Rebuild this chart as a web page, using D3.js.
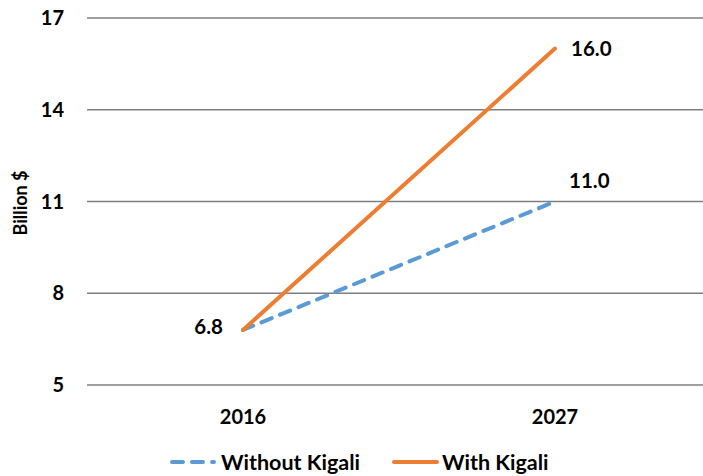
<!DOCTYPE html>
<html>
<head>
<meta charset="utf-8">
<script src="https://cdn.jsdelivr.net/npm/d3@7"></script>
<style>
  html, body { margin: 0; padding: 0; background: #fff; }
  text { font-family: Lato, "Open Sans", sans-serif; font-weight: bold; fill: #000; }
</style>
</head>
<body>
<svg id="chart" width="703" height="476"></svg>
<script>
// Refrigerant market value, billion dollars
const years = ["2016", "2027"];
const withoutKigali = [6.8, 11.0];
const withKigali = [6.8, 16.0];
const yTicks = [5, 8, 11, 14, 17];

const svg = d3.select("#chart");
const plotLeft = 87, plotRight = 703, plotTop = 18, plotBottom = 385;

const x = d3.scalePoint().domain(years).range([plotLeft, 711]).padding(0.5);
const y = d3.scaleLinear().domain([5, 17]).range([plotBottom, plotTop]);

// horizontal gridlines
svg.append("g").selectAll("line").data(yTicks).join("line")
  .attr("x1", plotLeft).attr("x2", plotRight)
  .attr("y1", d => y(d)).attr("y2", d => y(d))
  .attr("stroke", "#7f7f7f").attr("stroke-width", 1.5);

// y tick labels
svg.append("g").selectAll("text").data(yTicks).join("text")
  .attr("x", 64).attr("y", d => y(d)).attr("dy", "0.35em")
  .attr("text-anchor", "end").attr("font-size", 20)
  .text(d => d);

// x tick labels
svg.append("g").selectAll("text").data(years).join("text")
  .attr("x", d => x(d)).attr("y", 417).attr("dy", "0.35em")
  .attr("text-anchor", "middle").attr("font-size", 20)
  .text(d => d);

// y axis title
svg.append("text")
  .attr("transform", "translate(21,203) rotate(-90)")
  .attr("dy", "0.35em").attr("text-anchor", "middle").attr("font-size", 18)
  .text("Billion $");

const line = d3.line().x((d, i) => x(years[i])).y(d => y(d));

svg.append("path").datum(withoutKigali)
  .attr("d", line).attr("fill", "none")
  .attr("stroke", "#5b9bd5").attr("stroke-width", 4)
  .attr("stroke-dasharray", "11,9").attr("stroke-linecap", "round");

svg.append("path").datum(withKigali)
  .attr("d", line).attr("fill", "none")
  .attr("stroke", "#ed7d31").attr("stroke-width", 4)
  .attr("stroke-linecap", "round");

// data labels
svg.append("text").attr("x", x("2016") - 20).attr("y", y(withKigali[0]) - 3)
  .attr("dy", "0.35em").attr("text-anchor", "end").attr("font-size", 20.5)
  .text(withKigali[0].toFixed(1));
svg.append("text").attr("x", x("2027") + 16).attr("y", y(withKigali[1]))
  .attr("dy", "0.35em").attr("text-anchor", "start").attr("font-size", 20.5)
  .text(withKigali[1].toFixed(1));
svg.append("text").attr("x", x("2027") + 14).attr("y", y(withoutKigali[1]) - 21)
  .attr("dy", "0.35em").attr("text-anchor", "start").attr("font-size", 20.5)
  .text(withoutKigali[1].toFixed(1));

// legend
const legend = svg.append("g");
legend.append("line").attr("x1", 172).attr("x2", 214).attr("y1", 462).attr("y2", 462)
  .attr("stroke", "#5b9bd5").attr("stroke-width", 4)
  .attr("stroke-dasharray", "11,9").attr("stroke-linecap", "round");
legend.append("text").attr("x", 221).attr("y", 462).attr("dy", "0.35em")
  .attr("font-size", 21.5).text("Without Kigali");
legend.append("line").attr("x1", 394).attr("x2", 437).attr("y1", 462).attr("y2", 462)
  .attr("stroke", "#ed7d31").attr("stroke-width", 4).attr("stroke-linecap", "round");
legend.append("text").attr("x", 442).attr("y", 462).attr("dy", "0.35em")
  .attr("font-size", 21.5).text("With Kigali");
</script>
</body>
</html>
